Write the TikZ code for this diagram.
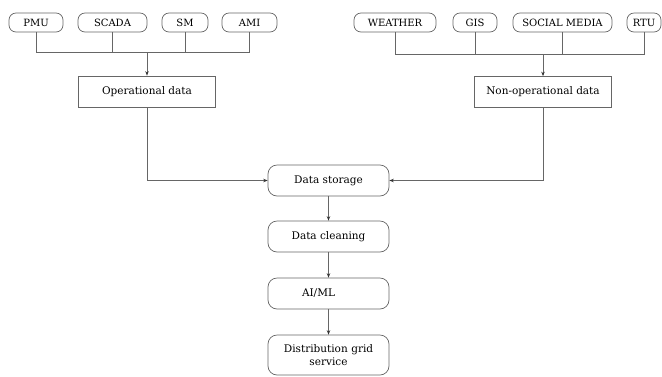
\documentclass[tikz,border=0pt]{standalone}
\usepackage{fontspec}
\setmainfont{DejaVu Serif}
\usetikzlibrary{arrows.meta}
\begin{document}
\begin{tikzpicture}[x=1pt,y=-1pt,
  src/.style={draw=black!60, line width=0.7pt, rounded corners=7pt, minimum height=19pt, inner sep=0pt, font=\fontsize{10}{12}\selectfont, text=black},
  datbox/.style={draw=black!60, line width=0.7pt, minimum height=31pt, inner sep=0pt, font=\fontsize{10.5}{12.5}\selectfont, text=black},
  proc/.style={draw=black!60, line width=0.7pt, rounded corners=9pt, minimum width=121pt, minimum height=31pt, inner sep=0pt, font=\fontsize{10.5}{12.5}\selectfont, text=black, align=center},
  ln/.style={draw=black!60, line width=0.8pt},
  arr/.style={ln, -{Stealth[length=4.5pt,width=3.5pt,color=black!80]}}
]
\useasboundingbox (0,0) rectangle (662,376);
% sources left
\node[src, minimum width=54pt] (pmu) at (36,22.5) {PMU};
\node[src, minimum width=69pt] (scada) at (112.5,22.5) {SCADA};
\node[src, minimum width=46pt] (sm) at (185,22.5) {SM};
\node[src, minimum width=55pt] (ami) at (249.5,22.5) {AMI};
% sources right
\node[src, minimum width=82pt] (weather) at (395,22.5) {WEATHER};
\node[src, minimum width=44pt] (gis) at (475,22.5) {GIS};
\node[src, minimum width=99pt] (social) at (562.5,22.5) {SOCIAL MEDIA};
\node[src, minimum width=34pt] (rtu) at (644,22.5) {RTU};
% data boxes
\node[datbox, minimum width=137pt] (op) at (147,91.5) {Operational data};
\node[datbox, minimum width=137pt] (nonop) at (543,92) {Non-operational data};
% processing chain
\node[proc] (store) at (328.5,180.5) {Data storage};
\node[proc] (clean) at (328.5,236.5) {Data cleaning};
\node[proc] (aiml) at (328.5,293.5) {AI/ML\hspace*{20pt}};
\node[proc, minimum height=40pt, text width=110pt, font=\fontsize{10.5}{13.5}\selectfont] (dist) at (328.5,355) {Distribution grid\\service};
% buses
\coordinate (busL) at (147,52);
\coordinate (busR) at (543,54);
\draw[ln] (pmu.south) |- (busL);
\draw[ln] (scada.south) |- (busL);
\draw[ln] (sm.south) |- (busL);
\draw[ln] (ami.south) |- (busL);
\draw[ln] (weather.south) |- (busR);
\draw[ln] (gis.south) |- (busR);
\draw[ln] (social.south) |- (busR);
\draw[ln] (rtu.south) |- (busR);
\draw[arr] (busL) -- (op.north);
\draw[arr] (busR) -- (nonop.north);
\draw[arr] (op.south) |- (store.west);
\draw[arr] (nonop.south) |- (store.east);
\draw[arr] (store) -- (clean);
\draw[arr] (clean) -- (aiml);
\draw[arr] (aiml) -- (dist);
\end{tikzpicture}
\end{document}
